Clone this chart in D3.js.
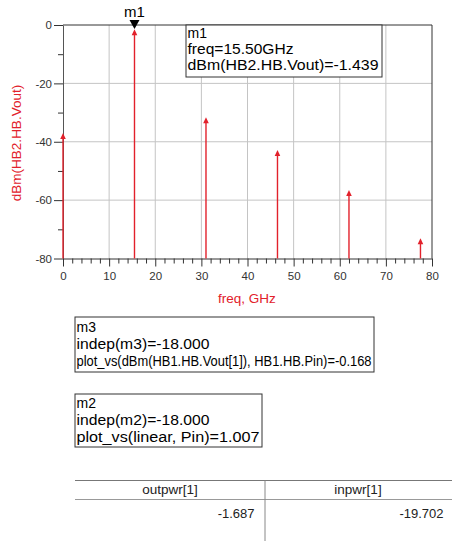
<!DOCTYPE html>
<html>
<head>
<meta charset="utf-8">
<script src="https://cdn.jsdelivr.net/npm/d3@7"></script>
<style>
  body { margin: 0; background: #fff; }
  svg { display: block; font-family: Arial, "Liberation Sans", sans-serif; }
</style>
</head>
<body>
<svg width="452" height="541"></svg>
<script>
// spectrum data (harmonics)
var freqs = [0, 15.5, 31, 46.5, 62, 77.5];
var dbmValues = [-37, -1.439, -31.6, -42.8, -56.5, -73.1];

var xTicks = [0, 10, 20, 30, 40, 50, 60, 70, 80];
var yTicks = [0, -20, -40, -60, -80];
var yMinorTicks = [-10, -30, -50, -70];

var m1Lines = ["m1", "freq=15.50GHz", "dBm(HB2.HB.Vout)=-1.439"];
var m3Lines = ["m3", "indep(m3)=-18.000", "plot_vs(dBm(HB1.HB.Vout[1]), HB1.HB.Pin)=-0.168"];
var m2Lines = ["m2", "indep(m2)=-18.000", "plot_vs(linear, Pin)=1.007"];

var tableHeaders = ["outpwr[1]", "inpwr[1]"];
var tableValues = ["-1.687", "-19.702"];

var red = "#e2212b";
var svg = d3.select("svg");

var xScale = d3.scaleLinear().domain([0, 80]).range([63, 432]);
var yScale = d3.scaleLinear().domain([-80, 0]).range([258.5, 25]);

// plain hyphen minus like ADS, not the unicode minus d3 uses
var plain = function (d) { return String(d); };

// grid
svg.append("g")
  .selectAll("line")
  .data(xTicks.slice(1, -1))
  .enter().append("line")
  .attr("x1", function (d) { return xScale(d); })
  .attr("x2", function (d) { return xScale(d); })
  .attr("y1", yScale(0))
  .attr("y2", yScale(-80))
  .attr("stroke", "#c4c4c4");

svg.append("g")
  .selectAll("line")
  .data(yTicks.slice(1, -1))
  .enter().append("line")
  .attr("x1", xScale(0))
  .attr("x2", xScale(80))
  .attr("y1", function (d) { return yScale(d); })
  .attr("y2", function (d) { return yScale(d); })
  .attr("stroke", "#c4c4c4");

// frame top + right
svg.append("path")
  .attr("d", "M" + xScale(0) + "," + yScale(0) + "H" + xScale(80) + "V" + yScale(-80))
  .attr("fill", "none")
  .attr("stroke", "#333");

// y axis
var yAxis = svg.append("g")
  .attr("transform", "translate(" + xScale(0) + ",0)")
  .call(d3.axisLeft(yScale).tickValues(yTicks).tickFormat(plain).tickSize(9).tickPadding(2).tickSizeOuter(0));
yAxis.select(".domain").attr("stroke", "#555");
yAxis.selectAll(".tick line").attr("stroke", "#333");
yAxis.selectAll("text").attr("fill", "#333").style("font-size", "11.5px")
  .style("font-family", "Arial, 'Liberation Sans', sans-serif");

svg.append("g")
  .attr("transform", "translate(" + xScale(0) + ",0)")
  .call(d3.axisLeft(yScale).tickValues(yMinorTicks).tickSize(5).tickFormat(""))
  .call(function (g) { g.select(".domain").remove(); })
  .selectAll("line").attr("stroke", "#333");

// x axis
var minorX = d3.range(0, 81, 2).filter(function (d) { return d % 10 !== 0; });
svg.append("g")
  .attr("transform", "translate(0," + yScale(-80) + ")")
  .call(d3.axisBottom(xScale).tickValues(minorX).tickSize(5).tickFormat(""))
  .call(function (g) { g.select(".domain").remove(); })
  .selectAll("line").attr("stroke", "#333");

var xAxis = svg.append("g")
  .attr("transform", "translate(0," + yScale(-80) + ")")
  .call(d3.axisBottom(xScale).tickValues(xTicks).tickFormat(plain).tickSize(8).tickPadding(5).tickSizeOuter(0));
xAxis.select(".domain").attr("stroke", "#333");
xAxis.selectAll(".tick line").attr("stroke", "#333");
xAxis.selectAll("text").attr("fill", "#333").style("font-size", "11.5px")
  .style("font-family", "Arial, 'Liberation Sans', sans-serif");

// axis titles
svg.append("text")
  .attr("transform", "translate(20.5,143) rotate(-90)")
  .attr("text-anchor", "middle")
  .attr("fill", red)
  .style("font-size", "13.5px")
  .text("dBm(HB2.HB.Vout)");

svg.append("text")
  .attr("x", 247)
  .attr("y", 303)
  .attr("text-anchor", "middle")
  .attr("fill", red)
  .style("font-size", "13.5px")
  .text("freq, GHz");

// stems
var spectrum = freqs.map(function (f, i) { return { f: f, v: dbmValues[i] }; });

svg.append("g")
  .selectAll("line")
  .data(spectrum)
  .enter().append("line")
  .attr("x1", function (d) { return xScale(d.f); })
  .attr("x2", function (d) { return xScale(d.f); })
  .attr("y1", yScale(-80))
  .attr("y2", function (d) { return yScale(d.v) + 3; })
  .attr("stroke", red)
  .attr("stroke-width", 1.4);

svg.append("g")
  .selectAll("path")
  .data(spectrum)
  .enter().append("path")
  .attr("d", function (d) {
    var px = xScale(d.f), py = yScale(d.v);
    return "M" + px + "," + py + "L" + (px + 2.8) + "," + (py + 6) + "L" + (px - 2.8) + "," + (py + 6) + "Z";
  })
  .attr("fill", red);

// marker m1
var mx = xScale(freqs[1]);
svg.append("path")
  .attr("d", "M" + (mx - 5) + "," + 20 + "L" + (mx + 5) + "," + 20 + "L" + mx + "," + 29 + "Z")
  .attr("fill", "#000");
svg.append("text")
  .attr("x", mx)
  .attr("y", 17)
  .attr("text-anchor", "middle")
  .style("font-size", "15px")
  .text("m1");

// readout boxes, widths = stretched text length as in the ADS screenshot
function markerBox(box, lines, widths) {
  var g = svg.append("g");
  g.append("rect")
    .attr("x", box.x).attr("y", box.y).attr("width", box.w).attr("height", box.h)
    .attr("fill", "#fff").attr("stroke", "#333");
  g.selectAll("text")
    .data(lines)
    .enter().append("text")
    .attr("x", box.x + 1.5)
    .attr("y", function (d, i) { return box.y + box.first + i * box.step; })
    .style("font-size", "14px")
    .attr("textLength", function (d, i) { return widths[i] || null; })
    .attr("lengthAdjust", "spacingAndGlyphs")
    .text(function (d) { return d; });
}

markerBox({ x: 186, y: 25, w: 196, h: 52, first: 12.5, step: 16.3 }, m1Lines, [0, 106, 191]);
markerBox({ x: 75, y: 317, w: 299, h: 55, first: 14.5, step: 17 }, m3Lines, [0, 133, 295]);
markerBox({ x: 75, y: 394, w: 187, h: 53, first: 13.5, step: 17 }, m2Lines, [0, 133, 183]);

// table
var colX = [75, 265, 451];
svg.append("line").attr("x1", colX[0]).attr("x2", 452).attr("y1", 480.5).attr("y2", 480.5).attr("stroke", "#777");
svg.append("line").attr("x1", colX[0]).attr("x2", 452).attr("y1", 499.5).attr("y2", 499.5).attr("stroke", "#999");
svg.append("line").attr("x1", colX[1]).attr("x2", colX[1]).attr("y1", 480.5).attr("y2", 541).attr("stroke", "#888");

svg.append("g")
  .selectAll("text")
  .data(tableHeaders)
  .enter().append("text")
  .attr("x", function (d, i) { return (colX[i] + colX[i + 1]) / 2; })
  .attr("y", 493.5)
  .attr("text-anchor", "middle")
  .attr("fill", "#222")
  .style("font-size", "13.5px")
  .text(function (d) { return d; });

svg.append("g")
  .selectAll("text")
  .data(tableValues)
  .enter().append("text")
  .attr("x", function (d, i) { return colX[i + 1] - (i === 0 ? 10.5 : 7.5); })
  .attr("y", 517.5)
  .attr("text-anchor", "end")
  .attr("fill", "#222")
  .style("font-size", "13px")
  .text(function (d) { return d; });
</script>
</body>
</html>
